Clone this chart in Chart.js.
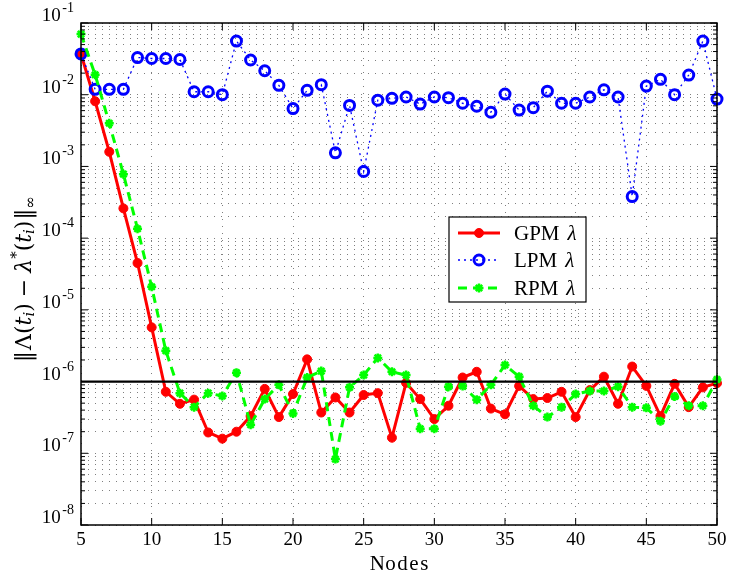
<!DOCTYPE html>
<html>
<head>
<meta charset="utf-8">
<script src="https://cdn.jsdelivr.net/npm/chart.js@4.4.0/dist/chart.umd.min.js"></script>
<style>
  html, body { margin: 0; padding: 0; background: #fff; }
  #wrap { width: 733px; height: 575px; }
</style>
</head>
<body>
<div id="wrap"><canvas id="chart" width="733" height="575"></canvas></div>
<script>
// x values (number of nodes)
const nodes = [5, 6, 7, 8, 9, 10, 11, 12, 13, 14, 15, 16, 17, 18, 19, 20, 21, 22, 23, 24, 25, 26, 27,
  28, 29, 30, 31, 32, 33, 34, 35, 36, 37, 38, 39, 40, 41, 42, 43, 44, 45, 46, 47, 48, 49, 50];

const gpm = [3.7e-2, 8.1e-3, 1.6e-3, 2.6e-4, 4.5e-5, 5.7e-6, 7.2e-7, 4.9e-7, 5.6e-7, 1.95e-7, 1.6e-7,
  2.0e-7, 3.3e-7, 7.9e-7, 3.2e-7, 6.7e-7, 2.04e-6, 3.7e-7, 6.0e-7, 3.7e-7, 6.5e-7, 6.9e-7, 1.65e-7,
  9.6e-7, 5.7e-7, 3.0e-7, 4.6e-7, 1.14e-6, 1.37e-6, 4.2e-7, 3.5e-7, 8.7e-7, 5.7e-7, 5.9e-7, 7.2e-7,
  3.2e-7, 7.6e-7, 1.17e-6, 4.9e-7, 1.62e-6, 8.7e-7, 3.3e-7, 9.3e-7, 4.4e-7, 8.3e-7, 9.5e-7];

const lpm = [3.7e-2, 1.19e-2, 1.19e-2, 1.19e-2, 3.3e-2, 3.2e-2, 3.2e-2, 3.1e-2, 1.1e-2, 1.1e-2, 1.0e-2,
  5.6e-2, 3.05e-2, 2.16e-2, 1.35e-2, 6.4e-3, 1.15e-2, 1.38e-2, 1.55e-3, 7.1e-3, 8.5e-4, 8.4e-3, 8.9e-3,
  9.3e-3, 7.4e-3, 9.3e-3, 9.1e-3, 7.6e-3, 6.9e-3, 5.7e-3, 1.02e-2, 6.1e-3, 6.6e-3, 1.12e-2, 7.6e-3,
  7.6e-3, 9.3e-3, 1.17e-2, 9.3e-3, 3.8e-4, 1.32e-2, 1.64e-2, 1.0e-2, 1.88e-2, 5.6e-2, 8.7e-3];

const rpm = [7.0e-2, 1.9e-2, 4.0e-3, 7.8e-4, 1.35e-4, 2.1e-5, 2.7e-6, 6.9e-7, 4.4e-7, 6.9e-7, 6.3e-7,
  1.33e-6, 2.5e-7, 5.7e-7, 9.0e-7, 3.6e-7, 1.14e-6, 1.4e-6, 8.3e-8, 8.3e-7, 1.23e-6, 2.14e-6, 1.37e-6,
  1.23e-6, 2.2e-7, 2.2e-7, 8.5e-7, 8.7e-7, 5.6e-7, 9.0e-7, 1.7e-6, 1.17e-6, 4.6e-7, 3.2e-7, 4.4e-7,
  6.7e-7, 7.4e-7, 7.4e-7, 8.5e-7, 4.4e-7, 4.3e-7, 2.8e-7, 6.2e-7, 4.6e-7, 4.6e-7, 1.07e-6];

const refLevel = 1e-6;
const refRange = [5, 50];

const xTickValues = [5, 10, 15, 20, 25, 30, 35, 40, 45, 50];
const yDecades = [-8, -7, -6, -5, -4, -3, -2, -1];
const yMantissas = [1, 2, 3, 4, 5, 6, 7, 8, 9];

const seriesNames = ['GPM', 'LPM', 'RPM'];

const SERIF = '"Liberation Serif", "DejaVu Serif", serif';
const WIDE = '"DejaVu Serif", "Liberation Serif", serif';

// every log tick (decades + minor) for the grid
const yTickValues = [];
yDecades.forEach((e, i) => {
  if (i === yDecades.length - 1) { yTickValues.push(Math.pow(10, e)); return; }
  yMantissas.forEach(m => yTickValues.push(+(m * Math.pow(10, e)).toPrecision(3)));
});

function toPoints(ys) {
  return nodes.map((n, i) => ({ x: n, y: ys[i] }));
}

// draw a run of text pieces with different fonts / offsets (gap = extra space after)
function drawRich(ctx, parts, x, y, align) {
  let w = 0;
  parts.forEach(p => { ctx.font = p.font; w += ctx.measureText(p.t).width + (p.gap || 0); });
  let cx = align === 'center' ? x - w / 2 : (align === 'right' ? x - w : x);
  ctx.textAlign = 'left';
  parts.forEach(p => {
    ctx.font = p.font;
    ctx.fillText(p.t, cx, y + (p.dy || 0));
    cx += ctx.measureText(p.t).width + (p.gap || 0);
  });
}

const decorPlugin = {
  id: 'decor',
  afterDatasetsDraw(chart) {
    const ctx = chart.ctx;
    const area = chart.chartArea;
    const xs = chart.scales.x;
    const ys = chart.scales.y;
    ctx.save();

    // frame
    ctx.strokeStyle = '#000';
    ctx.lineWidth = 1.5;
    ctx.setLineDash([]);
    ctx.strokeRect(area.left, area.top, area.right - area.left, area.bottom - area.top);

    // inward ticks
    ctx.lineWidth = 1;
    ctx.beginPath();
    xs.ticks.forEach(t => {
      const px = xs.getPixelForValue(t.value);
      ctx.moveTo(px, area.bottom); ctx.lineTo(px, area.bottom - 7);
      ctx.moveTo(px, area.top); ctx.lineTo(px, area.top + 7);
    });
    ys.ticks.forEach(t => {
      const py = ys.getPixelForValue(t.value);
      const isMajor = Math.abs(Math.log10(t.value) - Math.round(Math.log10(t.value))) < 1e-6;
      const len = isMajor ? 7 : 4;
      ctx.moveTo(area.left, py); ctx.lineTo(area.left + len, py);
      ctx.moveTo(area.right, py); ctx.lineTo(area.right - len, py);
    });
    ctx.stroke();

    // x tick labels
    ctx.fillStyle = '#000';
    ctx.font = '19px ' + SERIF;
    ctx.textAlign = 'center';
    ctx.textBaseline = 'middle';
    xs.ticks.forEach(t => {
      ctx.fillText(String(t.value), xs.getPixelForValue(t.value), 540);
    });
    ctx.font = '21px ' + SERIF;
    drawRich(ctx, [{ t: 'N', font: '21px ' + SERIF, gap: 0.5 }, { t: 'o', font: '21px ' + SERIF, gap: 1.5 },
      { t: 'd', font: '21px ' + SERIF, gap: 1.5 }, { t: 'e', font: '21px ' + SERIF, gap: 1.5 },
      { t: 's', font: '21px ' + SERIF }], (area.left + area.right) / 2, 564, 'center');

    // y tick labels 10^e
    ctx.textBaseline = 'alphabetic';
    yDecades.forEach(e => {
      const py = ys.getPixelForValue(Math.pow(10, e));
      ctx.font = '14px ' + SERIF;
      const sup = '-' + Math.abs(e);
      const sw = ctx.measureText(sup).width;
      ctx.textAlign = 'right';
      ctx.fillText(sup, 74, py - 11);
      ctx.font = '19px ' + SERIF;
      ctx.fillText('10', 74 - sw - 1.5, py - 2);
    });

    // y axis title
    ctx.save();
    ctx.translate(25, 279);
    ctx.rotate(-Math.PI / 2);
    ctx.textBaseline = 'middle';
    const big = '22px ' + WIDE;
    const bigI = 'italic 22px ' + WIDE;
    const sm = '15px ' + WIDE;
    const smI = 'italic 15px ' + WIDE;
    drawRich(ctx, [
      { t: '\u2016', font: big, gap: 1 },
      { t: '\u039B(', font: big },
      { t: 't', font: bigI },
      { t: 'i', font: smI, dy: 5 },
      { t: ')', font: big, gap: 6 },
      { t: '\u2212', font: big, gap: 6 },
      { t: '\u03BB', font: bigI },
      { t: '*', font: sm, dy: -8 },
      { t: '(', font: big },
      { t: 't', font: bigI },
      { t: 'i', font: smI, dy: 5 },
      { t: ')', font: big, gap: 1 },
      { t: '\u2016', font: big },
      { t: '\u221E', font: sm, dy: 6 }
    ], 0, 0, 'center');
    ctx.restore();

    // legend
    const box = { x: 449, y: 217, w: 137, h: 85 };
    ctx.fillStyle = '#fff';
    ctx.fillRect(box.x, box.y, box.w, box.h);
    ctx.strokeStyle = '#000';
    ctx.lineWidth = 1.2;
    ctx.strokeRect(box.x, box.y, box.w, box.h);
    const rows = [233, 260, 288];
    seriesNames.forEach((name, i) => {
      const ds = chart.data.datasets[i];
      const y = rows[i];
      ctx.strokeStyle = ds.borderColor;
      ctx.lineWidth = ds.borderWidth;
      ctx.setLineDash(ds.borderDash || []);
      ctx.beginPath();
      ctx.moveTo(458, y); ctx.lineTo(500, y);
      ctx.stroke();
      ctx.setLineDash([]);
      ctx.fillStyle = ds.pointBackgroundColor;
      ctx.strokeStyle = ds.pointBorderColor;
      ctx.lineWidth = ds.pointBorderWidth;
      Chart.helpers.drawPoint(ctx, { pointStyle: ds.pointStyle, radius: ds.pointRadius, rotation: 0, borderWidth: ds.pointBorderWidth }, 479, y);
      ctx.fillStyle = '#000';
      ctx.textBaseline = 'middle';
      drawRich(ctx, [
        { t: name, font: '21px ' + SERIF, gap: 8 },
        { t: '\u03BB', font: 'italic 21px ' + SERIF }
      ], 514, y + 1, 'left');
    });

    ctx.restore();
  }
};

const gridColor = 'rgba(0,0,0,0.5)';

new Chart(document.getElementById('chart'), {
  type: 'line',
  data: {
    datasets: [
      {
        label: 'GPM',
        data: toPoints(gpm),
        borderColor: '#ff0000',
        borderWidth: 3,
        pointStyle: 'circle',
        pointRadius: 4.5,
        pointBackgroundColor: '#ff0000',
        pointBorderColor: '#ff0000',
        pointBorderWidth: 1,
        order: 3
      },
      {
        label: 'LPM',
        data: toPoints(lpm),
        borderColor: '#0000ff',
        borderWidth: 1.3,
        borderDash: [2, 4],
        pointStyle: 'circle',
        pointRadius: 5,
        pointBackgroundColor: 'rgba(255,255,255,0)',
        pointBorderColor: '#0000ff',
        pointBorderWidth: 3,
        order: 2
      },
      {
        label: 'RPM',
        data: toPoints(rpm),
        borderColor: '#00ff00',
        borderWidth: 3,
        borderDash: [9, 6],
        pointStyle: 'star',
        pointRadius: 4.5,
        pointBackgroundColor: '#00ff00',
        pointBorderColor: '#00ff00',
        pointBorderWidth: 2.5,
        order: 1
      },
      {
        label: 'ref',
        data: refRange.map(x => ({ x: x, y: refLevel })),
        borderColor: '#000',
        borderWidth: 2.2,
        pointRadius: 0,
        order: 0
      }
    ]
  },
  options: {
    responsive: false,
    animation: false,
    events: [],
    clip: false,
    layout: { padding: { left: 81, top: 23, right: 16, bottom: 50 } },
    elements: { line: { tension: 0 } },
    plugins: {
      legend: { display: false },
      tooltip: { enabled: false }
    },
    scales: {
      x: {
        type: 'linear',
        min: 5,
        max: 50,
        afterBuildTicks: scale => { scale.ticks = xTickValues.map(v => ({ value: v })); },
        ticks: { display: false },
        grid: { color: gridColor, lineWidth: 1, drawTicks: false },
        border: { display: false, dash: [1, 6] }
      },
      y: {
        type: 'logarithmic',
        min: 1e-8,
        max: 1e-1,
        afterBuildTicks: scale => { scale.ticks = yTickValues.map(v => ({ value: v })); },
        ticks: { display: false },
        grid: { color: gridColor, lineWidth: 1, drawTicks: false },
        border: { display: false, dash: [1, 6] }
      }
    }
  },
  plugins: [decorPlugin]
});
</script>
</body>
</html>
